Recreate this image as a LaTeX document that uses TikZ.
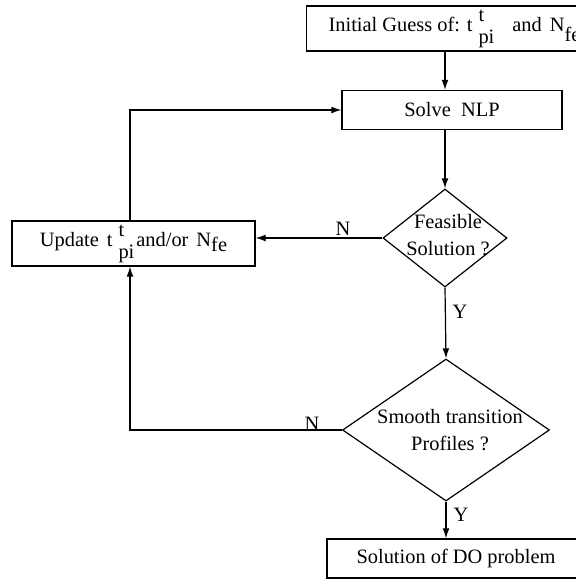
\documentclass[tikz,border=0pt]{standalone}
\usepackage{fontspec}
\setmainfont{Liberation Serif}
\usetikzlibrary{shapes.geometric,arrows.meta}
\newcommand{\tpi}{t\hspace{3pt}\makebox[0pt][l]{\raisebox{5pt}{t}}\raisebox{-6pt}{pi}}

\begin{document}
\begin{tikzpicture}[x=0.5pt, y=-0.5pt, line width=0.6pt,
    every node/.style={font=\fontsize{10.2}{12.5}\selectfont},
    stepbox/.style={draw, minimum height=19.5pt, inner sep=0pt},
    decision/.style={draw, diamond, inner sep=0pt},
    flow/.style={-{Latex[length=5pt,width=3.4pt]}}
]
\useasboundingbox (0,0) rectangle (576,579);

\node[stepbox, anchor=west, inner xsep=11pt, minimum height=22.5pt] (init) at (306,28.5) {Initial Guess of: \tpi\hspace{9pt}and\hspace{4pt}N\raisebox{-5pt}{fe}};
\node[stepbox, minimum width=110pt] (solve) at (452,110) {Solve\ \ NLP\hspace{17pt}};
\node[decision, minimum width=62pt, minimum height=49pt] (feas) at (445,238) {};
\node[align=center] (feastxt) at (448,235) {Feasible\\[1pt]Solution ?};
\node[stepbox, minimum width=121.5pt, minimum height=22.5pt] (upd) at (133.5,243.5) {Update\hspace{4pt}\tpi\hspace{1pt}and/or\hspace{4pt}N\raisebox{-2.5pt}{fe}};
\node[decision, minimum width=103.5pt, minimum height=71pt] (smooth) at (446,430) {};
\node[align=center] (smoothtxt) at (450,430) {Smooth transition\\[1pt]Profiles ?};
\node[stepbox, minimum width=129pt] (sol) at (456,558.5) {Solution of DO problem\hspace{7.5pt}};

\node (nfeas) at (343,229) {N};
\node (yfeas) at (460,312) {Y};
\node (nsmooth) at (312,424) {N};
\node (ysmooth) at (461,515) {Y};

\draw[flow] (init.south -| feas.north) -- (solve.north -| feas.north);
\draw[flow] (solve.south -| feas.north) -- (feas.north);
\draw[flow] (feas.west) -- (feas.west -| upd.east);
\draw[flow] (feas.south) -- (smooth.north);
\draw[flow] (smooth.south) -- (smooth.south |- sol.north);
\draw[flow] (smooth.west) -| ([xshift=-1.75pt]upd.south);
\draw[flow] ([xshift=-1.75pt]upd.north) |- (solve.west);

\end{tikzpicture}
\end{document}
